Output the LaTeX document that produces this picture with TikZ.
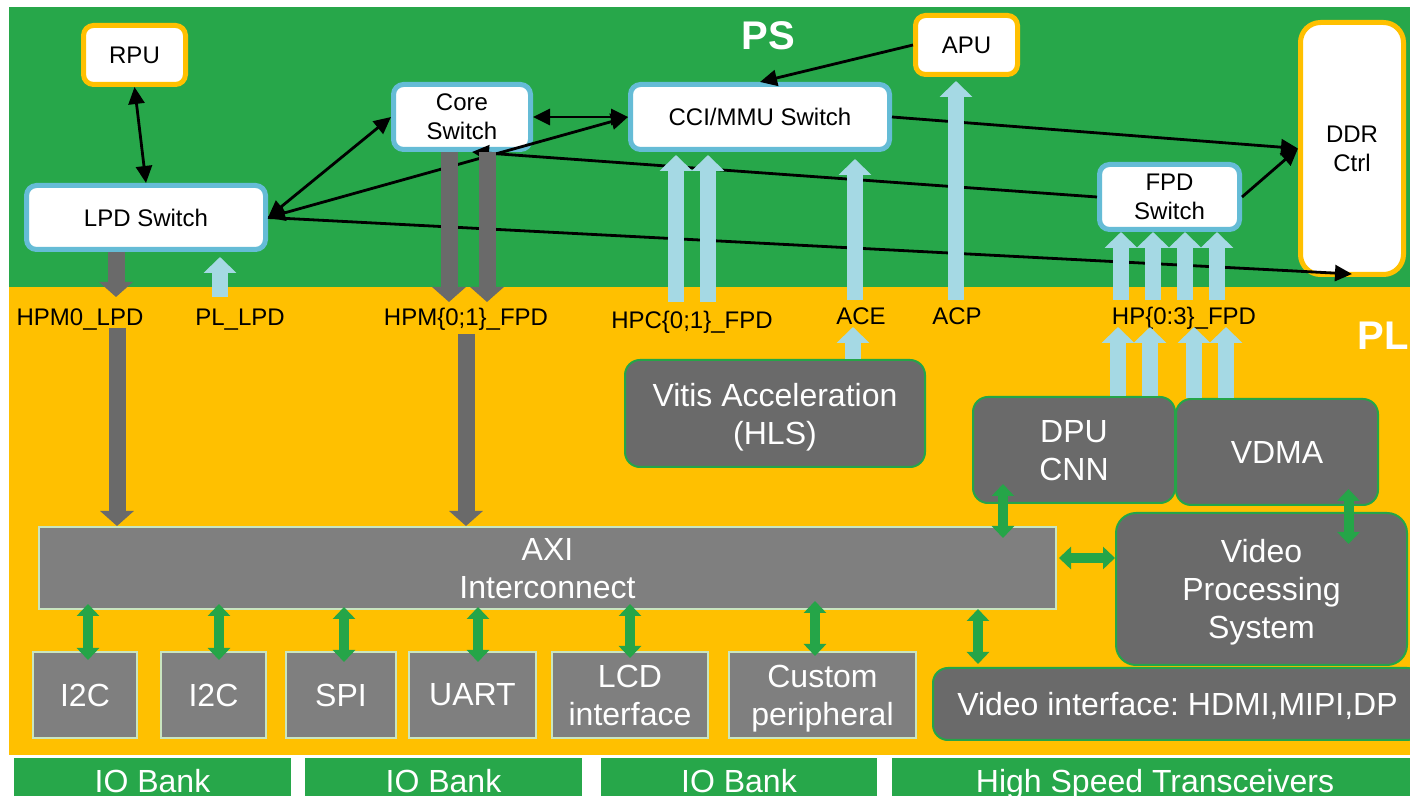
\documentclass[tikz,border=0pt]{standalone}
\usepackage{fontspec}
\setmainfont{Liberation Sans}
\usetikzlibrary{arrows.meta,calc}
\frenchspacing

\definecolor{psgreen}{HTML}{27A74A}
\definecolor{plyellow}{HTML}{FFC000}
\definecolor{boxblue}{HTML}{65BCD6}
\definecolor{arrowblue}{HTML}{A5D9E4}
\definecolor{darkblock}{HTML}{6A6A6A}
\definecolor{midblock}{HTML}{7F7F7F}
\definecolor{paleedge}{HTML}{C9E5C0}
\definecolor{linkgreen}{HTML}{25A548}

\tikzset{
  psbox/.style={draw, fill=white, line width=2.5pt, rounded corners=5pt,
    font=\fontsize{12}{14.5}\selectfont, align=center, inner sep=0pt},
  cpubox/.style={psbox, draw=plyellow},
  swbox/.style={psbox, draw=boxblue},
  plbox/.style={draw=linkgreen, fill=darkblock, line width=1pt, rounded corners=7.5pt,
    text=white, font=\fontsize{16}{19}\selectfont, align=center, inner sep=0pt},
  perbox/.style={draw=paleedge, fill=midblock, line width=1pt,
    text=white, font=\fontsize{16}{19}\selectfont, align=center, inner sep=0pt},
  bankbar/.style={fill=psgreen, inner sep=0pt},
  banktext/.style={text=white, font=\fontsize{16}{19}\selectfont, anchor=base, inner sep=0pt},
  portlbl/.style={font=\fontsize{12}{14}\selectfont, anchor=base, inner sep=0pt},
  fatdown/.style={draw=darkblock, line width=8.5pt, -{Triangle[width=16.5pt,length=7.5pt]}},
  fatup/.style={draw=arrowblue, line width=8pt, -{Triangle[width=16pt,length=8pt]}},
  greenlink/.style={draw=linkgreen, line width=5pt,
    {Triangle[width=11pt,length=6pt]}-{Triangle[width=11pt,length=6pt]}},
  sigline/.style={black, line width=1.4pt, -{Triangle[width=8pt,length=8.5pt]}},
  sigboth/.style={sigline, {Triangle[width=8pt,length=8.5pt]}-{Triangle[width=8pt,length=8.5pt]}},
}

\begin{document}
\begin{tikzpicture}[x=0.5pt,y=-0.5pt]
\useasboundingbox (0,0) rectangle (1410,796);

% domains
\fill[white] (0,0) rectangle (1410,796);
\fill[psgreen] (9,7) rectangle (1420,287);
\fill[plyellow] (9,287) rectangle (1420,755);

\node[text=white, font=\fontsize{20}{24}\selectfont\bfseries] (ps) at (768,36) {PS};
\node[text=white, font=\fontsize{20}{24}\selectfont\bfseries, anchor=west, inner sep=0pt] (pl) at (1357,336) {PL};

% processing system blocks
\node[cpubox, minimum width=51pt, minimum height=29.5pt] (rpu) at (134.5,55) {RPU};
\node[cpubox, minimum width=51pt, minimum height=29.5pt] (apu) at (966.5,45) {APU};
\node[swbox, minimum width=119.5pt, minimum height=32pt] (lpd) at (146,217.5) {LPD Switch};
\node[swbox, minimum width=68.5pt, minimum height=32.5pt] (core) at (462,117) {Core\\Switch};
\node[swbox, minimum width=129.5pt, minimum height=32.5pt] (cci) at (760,117) {CCI/MMU Switch};
\node[swbox, minimum width=70pt, minimum height=32.5pt] (fpd) at (1169.5,197) {FPD\\Switch};
\node[cpubox, rounded corners=10pt, minimum width=51.5pt, minimum height=126pt] (ddr) at (1352,148.5) {DDR\\Ctrl};

% programmable logic blocks (text depth tunes the vertical placement of the labels)
\node[plbox, text depth=-2.6pt, minimum width=150pt, minimum height=53.5pt] (vitis) at (775,413.5) {Vitis Acceleration\\(HLS)};
\node[plbox, text depth=-2pt, minimum width=101pt, minimum height=53pt] (dpu) at (1074,450) {DPU\\CNN};
\node[plbox, minimum width=101pt, minimum height=53pt] (vdma) at (1277,452) {VDMA};
\node[plbox, text depth=-0.6pt, rounded corners=10pt, minimum width=145.5pt, minimum height=76pt] (vps) at (1261.5,589) {Video\\Processing\\System};
\node[plbox, text depth=-0.7pt, minimum width=244.5pt, minimum height=36pt] (vif) at (1177.5,704) {Video interface: HDMI,MIPI,DP};
\node[perbox, text depth=-3pt, minimum width=508.5pt, minimum height=41pt] (axi) at (547.5,568) {AXI\\Interconnect};

\node[perbox, minimum width=52pt, minimum height=43pt] (i2ca) at (85,695) {I2C};
\node[perbox, minimum width=52.5pt, minimum height=43pt] (i2cb) at (213.5,695) {I2C};
\node[perbox, minimum width=55pt, minimum height=43pt] (spi) at (341,695) {SPI};
\node[perbox, minimum width=63.5pt, minimum height=43pt] (uart) at (472.5,695) {UART};
\node[perbox, text depth=-1.5pt, minimum width=78pt, minimum height=43pt] (lcd) at (630,695) {LCD\\interface};
\node[perbox, text depth=-3.6pt, minimum width=93.5pt, minimum height=43pt] (custom) at (822.5,695) {Custom\\peripheral};

% IO banks along the bottom edge
\node[bankbar, minimum width=138.5pt, minimum height=21pt] (bank1) at (152.5,779) {};
\node[bankbar, minimum width=138.5pt, minimum height=21pt] (bank2) at (443.5,779) {};
\node[bankbar, minimum width=138pt, minimum height=21pt] (bank3) at (739,779) {};
\node[bankbar, minimum width=263pt, minimum height=21pt] (bank4) at (1155,779) {};
\node[banktext] (bank1t) at ($(bank1.center)+(0,13)$) {IO Bank};
\node[banktext] (bank2t) at ($(bank2.center)+(0,13)$) {IO Bank};
\node[banktext] (bank3t) at ($(bank3.center)+(0,13)$) {IO Bank};
\node[banktext] (bank4t) at ($(bank4.center)+(0,13)$) {High Speed Transceivers};

% port names at the PS/PL boundary
\node[portlbl] (lhpm0) at (80,325.5) {HPM0\_LPD};
\node[portlbl] (lpllpd) at (240,325.5) {PL\_LPD};
\node[portlbl] (lhpm) at (466,325.5) {HPM\{0;1\}\_FPD};
\node[portlbl] (lhpc) at (692,328.5) {HPC\{0;1\}\_FPD};
\node[portlbl] (lace) at (861,324.5) {ACE};
\node[portlbl] (lacp) at (957,324.5) {ACP};
\node[portlbl] (lhp) at (1184,324.5) {HP\{0:3\}\_FPD};

% interconnect inside the PS
\draw[sigboth] (rpu.south) -- (lpd.north);
\draw[sigboth] (lpd.east) -- (core.west);
\draw[sigboth] (lpd.east) -- (cci.west);
\draw[sigboth] (core.east) -- (cci.west);
\draw[sigline] (apu.west) -- (cci.north);
\draw[sigline] (cci.east) -- (ddr.west);
\draw[sigline] (fpd.east) -- (ddr.west);
\draw[sigline] (fpd.west) -- ($(core.south)+(10,0)$);
\draw[sigline] (lpd.east) -- ($(ddr.south)+(0,-3)$);

% master ports PS -> PL
\coordinate (hpm0end) at (116,297);
\coordinate (hpmAend) at (449,302);
\coordinate (hpmBend) at (487,302);
\draw[fatdown] (lpd.south -| hpm0end) -- (hpm0end);
\draw[fatdown] (core.south -| hpmAend) -- (hpmAend);
\draw[fatdown] (core.south -| hpmBend) -- (hpmBend);

% slave ports PL -> PS
\coordinate (pllpdin) at (220,297);
\coordinate (hpcAin) at (676,302);
\coordinate (hpcBin) at (708,302);
\coordinate (acein) at (855,300);
\coordinate (acpin) at (956,300);
\draw[fatup, shorten >=2.5pt] (pllpdin) -- (pllpdin |- lpd.south);
\draw[fatup, shorten >=1.5pt] (hpcAin) -- (hpcAin |- cci.south);
\draw[fatup, shorten >=1.5pt] (hpcBin) -- (hpcBin |- cci.south);
\draw[fatup, shorten >=3.5pt] (acein) -- (acein |- cci.south);
\draw[fatup, shorten >=2pt] (acpin) -- (acpin |- apu.south);
\foreach \px [count=\i] in {1121,1153,1185,1217}{
  \coordinate (hpin\i) at (\px,300);
  \draw[fatup] (hpin\i) -- (hpin\i |- fpd.south);
}

% PL side of the ports
\coordinate (hpm0low) at (117,328);
\coordinate (hpmlow) at (466,334);
\draw[fatdown] (hpm0low) -- (hpm0low |- axi.north);
\draw[fatdown] (hpmlow) -- (hpmlow |- axi.north);
\coordinate (acelow) at (853,327);
\draw[fatup] (vitis.north -| acelow) -- (acelow);
\coordinate (hpl1) at (1118,327);
\coordinate (hpl2) at (1150,327);
\coordinate (hpl3) at (1194,327);
\coordinate (hpl4) at (1226,327);
\draw[fatup] (dpu.north -| hpl1) -- (hpl1);
\draw[fatup] (dpu.north -| hpl2) -- (hpl2);
\draw[fatup] (vdma.north -| hpl3) -- (hpl3);
\draw[fatup] (vdma.north -| hpl4) -- (hpl4);

% AXI links to peripherals and video path
\draw[greenlink] ($(i2ca.north)+(3,9)$) -- ($(i2ca.north |- axi.south)+(3,-6)$);
\draw[greenlink] ($(i2cb.north)+(5.5,9)$) -- ($(i2cb.north |- axi.south)+(5.5,-6)$);
\draw[greenlink] ($(spi.north)+(3,11)$) -- ($(spi.north |- axi.south)+(3,-3)$);
\draw[greenlink] ($(uart.north)+(5.5,11)$) -- ($(uart.north |- axi.south)+(5.5,-3)$);
\draw[greenlink] ($(lcd.north)+(0,7)$) -- ($(lcd.north |- axi.south)+(0,-6)$);
\draw[greenlink] ($(custom.north)+(-7.5,5)$) -- ($(custom.north |- axi.south)+(-7.5,-9)$);
\draw[greenlink] ($(vif.north west)+(46,-3)$) -- ($(vif.north west |- axi.south)+(46,-1)$);
\draw[greenlink] ($(dpu.south west)+(31,-20)$) -- ($(dpu.south west |- axi.north)+(31,12)$);
\draw[greenlink] ($(axi.east)+(2,-10)$) -- ($(vps.west |- axi.east)+(0,-10)$);
\draw[greenlink] ($(vdma.south)+(71.5,-17)$) -- ($(vdma.south |- vps.north)+(71.5,32)$);
\end{tikzpicture}
\end{document}
